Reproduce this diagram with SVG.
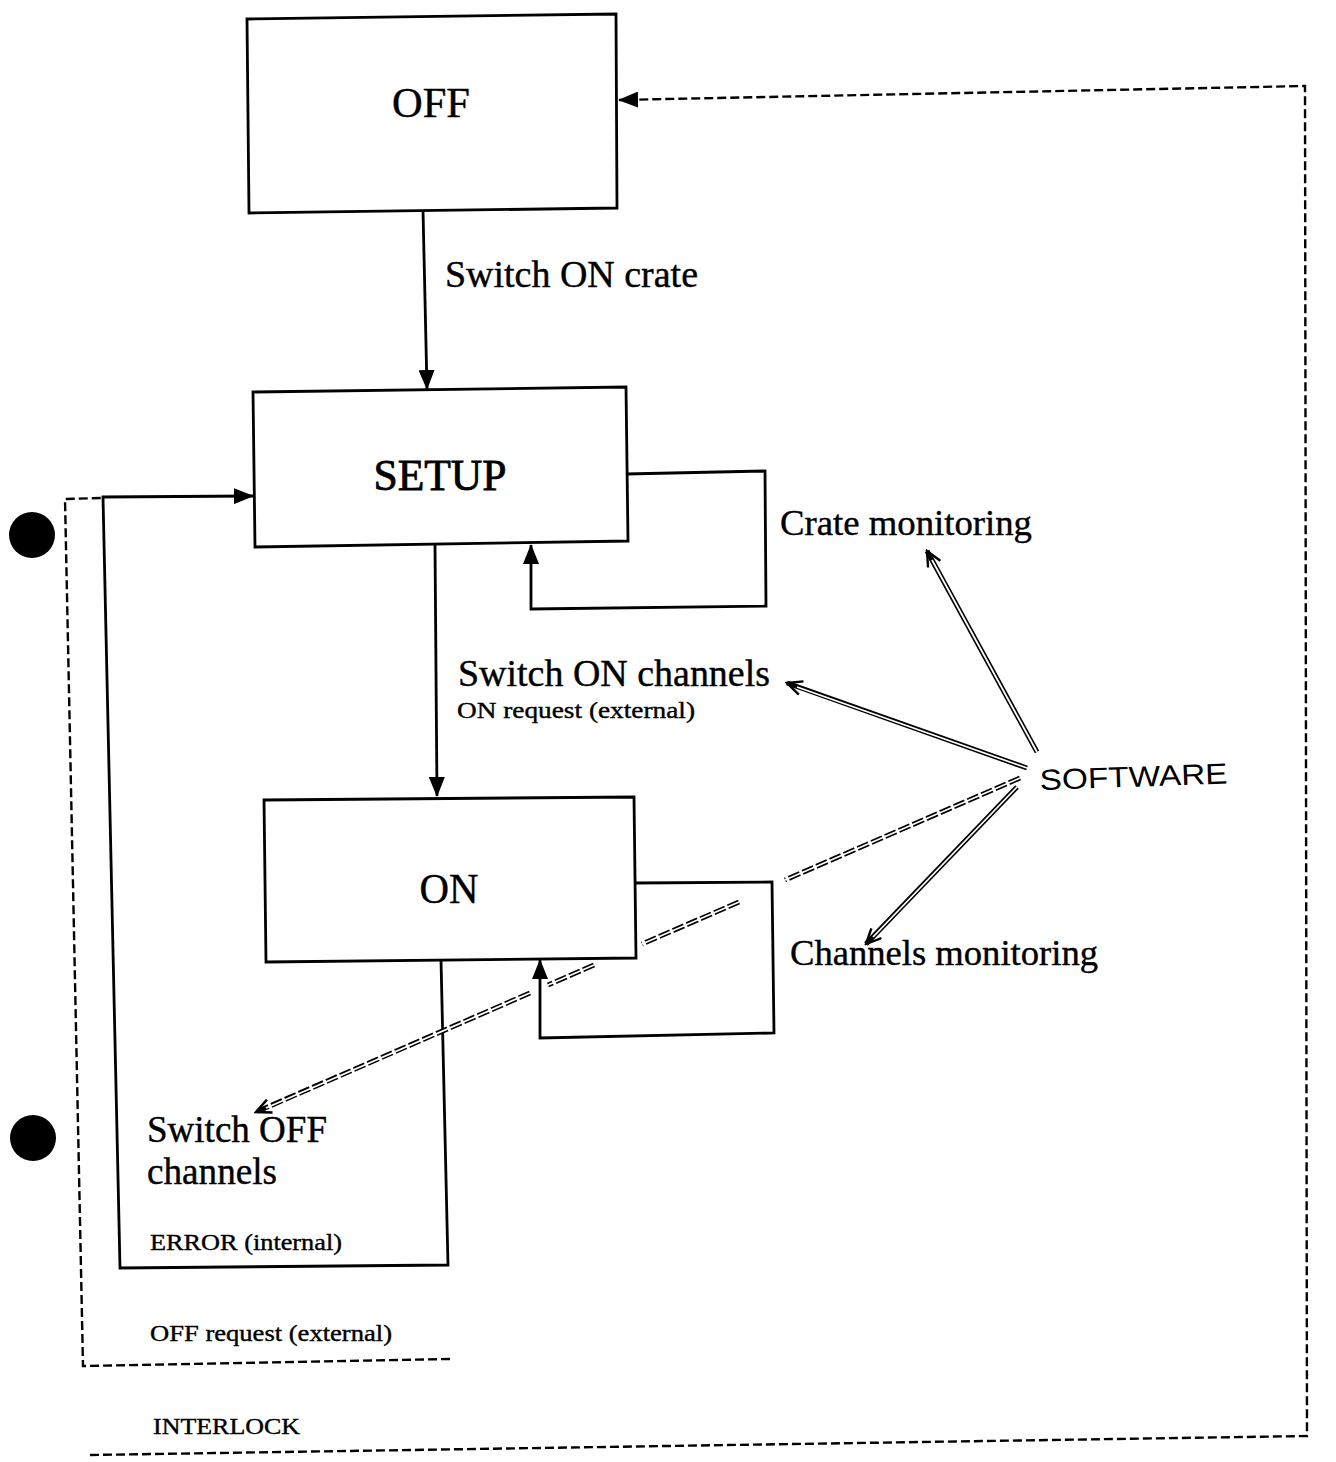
<svg xmlns="http://www.w3.org/2000/svg" width="1336" height="1462" viewBox="0 0 1336 1462">
<style>
.box{fill:none;stroke:#000;stroke-width:2.8}
.ln{fill:none;stroke:#000;stroke-width:2.8}
.dash{fill:none;stroke:#000;stroke-width:2.4;stroke-dasharray:9 4}
.t{font-family:"Liberation Serif","Times New Roman",serif;fill:#000;stroke:#000;stroke-width:0.4}
.dbl{fill:none;stroke:#000;stroke-width:5}
.dblw{fill:none;stroke:#fff;stroke-width:1.8}
.dd{fill:none;stroke:#000;stroke-width:5;stroke-dasharray:12 3}
</style>
<defs>
<marker id="tri" viewBox="0 0 20 16" markerWidth="20" markerHeight="16" refX="19" refY="8" orient="auto" markerUnits="userSpaceOnUse">
<path d="M0,0 L20,8 L0,16 z" fill="#000"/>
</marker>
<marker id="open" viewBox="0 0 18 16" markerWidth="18" markerHeight="16" refX="16" refY="8" orient="auto" markerUnits="userSpaceOnUse">
<path d="M1,1 L16,8 L1,15" fill="none" stroke="#000" stroke-width="2.4"/>
</marker>
</defs>
<rect width="1336" height="1462" fill="#fff"/>

<g id="holes">
<circle cx="32" cy="535" r="23" fill="#000"/>
<circle cx="33" cy="1138" r="23" fill="#000"/>
</g>

<g id="node-off">
<path class="box" d="M247,19 L616,14 L617,208 L249,213 Z"/>
<text class="t" x="431" y="117" font-size="42" text-anchor="middle" textLength="78" lengthAdjust="spacingAndGlyphs">OFF</text>
</g>

<g id="node-setup">
<path class="box" d="M253,392 L626,387 L628,541 L255,547 Z"/>
<text class="t" x="440" y="490" font-size="44" text-anchor="middle" textLength="133" lengthAdjust="spacingAndGlyphs" style="stroke-width:0.8">SETUP</text>
</g>

<g id="node-on">
<path class="box" d="M264,800 L634,797 L636,958 L266,962 Z"/>
<text class="t" x="449" y="903" font-size="42" text-anchor="middle" textLength="59" lengthAdjust="spacingAndGlyphs">ON</text>
</g>

<g id="label-software">
<text x="1040" y="790" font-family="'Liberation Sans',Arial,sans-serif" font-size="29" textLength="188" lengthAdjust="spacingAndGlyphs" transform="rotate(-2 1040 790)">SOFTWARE</text>
</g>

<g id="connectors">
<path class="ln" d="M423,210 L427,389" marker-end="url(#tri)"/>
<path class="ln" d="M435,545 L437,796" marker-end="url(#tri)"/>
<path class="ln" d="M626,474 L765,471 L766,606 L531,609 L531,545" marker-end="url(#tri)"/>
<path class="ln" d="M635,883 L772,882 L774,1033 L540,1038 L540,960" marker-end="url(#tri)"/>
<path class="ln" d="M441,960 L448,1265 L120,1268 L103,497 L253,496" marker-end="url(#tri)"/>
<path class="dash" d="M450,1359 L83,1366 L65,499 L103,498"/>
<path class="dash" d="M90,1455 L1307,1436 L1305,86 L619,100" marker-end="url(#tri)"/>

<path class="dbl" d="M1037,752 L927,551" marker-end="url(#open)"/>
<path class="dblw" d="M1037,752 L932,560"/>
<path class="dbl" d="M1027,768 L787,683" marker-end="url(#open)"/>
<path class="dblw" d="M1027,768 L797,687"/>
<path class="dbl" d="M1017,787 L866,944" marker-end="url(#open)"/>
<path class="dblw" d="M1017,787 L873,937"/>
<path class="dd" d="M1020,778 L785,880 M739,902 L642,944 M594,965 L548,985 M530,993 L256,1112" marker-end="url(#open)"/>
<path class="dblw" d="M1020,778 L785,880 M739,902 L642,944 M594,965 L548,985 M530,993 L266,1108"/>
</g>

<g id="labels">
<text class="t" x="445" y="287" font-size="37" textLength="253" lengthAdjust="spacingAndGlyphs">Switch ON crate</text>
<text class="t" x="780" y="535" font-size="36" textLength="252" lengthAdjust="spacingAndGlyphs">Crate monitoring</text>
<text class="t" x="458" y="686" font-size="37" textLength="312" lengthAdjust="spacingAndGlyphs">Switch ON channels</text>
<text class="t" x="457" y="718" font-size="24" textLength="238" lengthAdjust="spacingAndGlyphs">ON request (external)</text>
<text class="t" x="790" y="965" font-size="36" textLength="308" lengthAdjust="spacingAndGlyphs">Channels monitoring</text>
<text class="t" x="147" y="1142" font-size="37" textLength="180" lengthAdjust="spacingAndGlyphs">Switch OFF</text>
<text class="t" x="147" y="1184" font-size="37" textLength="130" lengthAdjust="spacingAndGlyphs">channels</text>
<text class="t" x="150" y="1250" font-size="24" textLength="192" lengthAdjust="spacingAndGlyphs">ERROR (internal)</text>
<text class="t" x="150" y="1341" font-size="24" textLength="242" lengthAdjust="spacingAndGlyphs">OFF request (external)</text>
<text class="t" x="153" y="1434" font-size="24" textLength="147" lengthAdjust="spacingAndGlyphs">INTERLOCK</text>
</g>
</svg>
